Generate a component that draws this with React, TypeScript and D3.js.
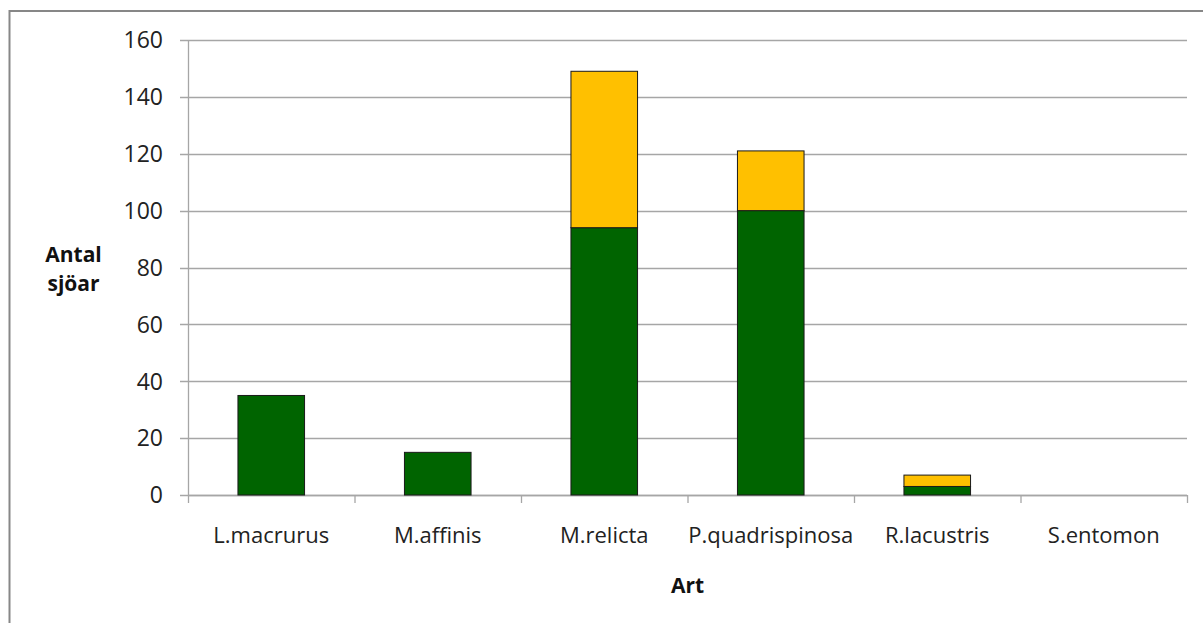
import React from "react";
import * as d3 from "d3";

// Number of lakes per species, split into two groups
const species = ["L.macrurus", "M.affinis", "M.relicta", "P.quadrispinosa", "R.lacustris", "S.entomon"];
const greenValues = [35, 15, 94, 100, 3, 0];
const orangeValues = [0, 0, 55, 21, 4, 0];
const yTicks = [0, 20, 40, 60, 80, 100, 120, 140, 160];

const W = 1203;
const H = 623;
const plot = { left: 188, right: 1187, top: 40, bottom: 495 };
const FONT = "'Open Sans', 'Liberation Sans', sans-serif";

export default function App() {
  const x = d3.scaleBand<string>().domain(species).range([plot.left, plot.right]).paddingInner(0).paddingOuter(0);
  const y = d3.scaleLinear().domain([0, 160]).range([plot.bottom, plot.top]);
  const barW = x.bandwidth() * 0.4;

  const stacked = d3.stack<number>().keys(["green", "orange"]).value((i, key) =>
    key === "green" ? greenValues[i] : orangeValues[i]
  )(d3.range(species.length));
  const colors: Record<string, string> = { green: "#006400", orange: "#FFC000" };

  const boundaries = [...species.map((s) => x(s) as number), plot.right];

  return (
    <svg
      width={W}
      height={H}
      style={{ position: "absolute", left: 0, top: 0, background: "#fff" }}
      fontFamily={FONT}
    >
      <rect x={9.5} y={11} width={W + 20} height={H + 20} fill="#fff" stroke="#878787" strokeWidth={2} />

      {/* horizontal gridlines with left tick marks */}
      {yTicks.map((t) => (
        <line
          key={"g" + t}
          x1={plot.left - 8}
          x2={plot.right}
          y1={Math.round(y(t)) + 0.5}
          y2={Math.round(y(t)) + 0.5}
          stroke="#a6a6a6"
          strokeWidth={1.3}
        />
      ))}
      {yTicks.map((t) => (
        <text key={"yl" + t} x={163} y={y(t)} dy="0.36em" textAnchor="end" fontSize={23} fill="#222">
          {t}
        </text>
      ))}

      {/* vertical axis */}
      <line x1={plot.left + 0.5} x2={plot.left + 0.5} y1={plot.top} y2={plot.bottom} stroke="#a6a6a6" strokeWidth={1.3} />
      {/* category axis */}
      <line x1={plot.left} x2={plot.right} y1={plot.bottom + 0.5} y2={plot.bottom + 0.5} stroke="#a6a6a6" strokeWidth={1.3} />
      {boundaries.map((b, i) => (
        <line key={"xt" + i} x1={b + 0.5} x2={b + 0.5} y1={plot.bottom} y2={plot.bottom + 8} stroke="#a6a6a6" strokeWidth={1.3} />
      ))}

      {/* stacked bars */}
      {stacked.map((layer) =>
        layer.map((seg, i) => {
          const h = y(seg[0]) - y(seg[1]);
          if (h <= 0) return null;
          const cx = (x(species[i]) as number) + x.bandwidth() / 2;
          return (
            <rect
              key={layer.key + i}
              x={cx - barW / 2}
              y={y(seg[1])}
              width={barW}
              height={h}
              fill={colors[layer.key]}
              stroke="#1a1a1a"
              strokeWidth={1}
            />
          );
        })
      )}

      {species.map((s) => (
        <text key={"xl" + s} x={(x(s) as number) + x.bandwidth() / 2} y={543} textAnchor="middle" fontSize={22} fill="#222">
          {s}
        </text>
      ))}

      <text x={(plot.left + plot.right) / 2} y={593} textAnchor="middle" fontSize={21} fontWeight="bold" fill="#111">
        Art
      </text>
      <text x={73.5} y={262} textAnchor="middle" fontSize={21} fontWeight="bold" fill="#111">
        Antal
      </text>
      <text x={73.5} y={291} textAnchor="middle" fontSize={21} fontWeight="bold" fill="#111">
        sjöar
      </text>
    </svg>
  );
}
